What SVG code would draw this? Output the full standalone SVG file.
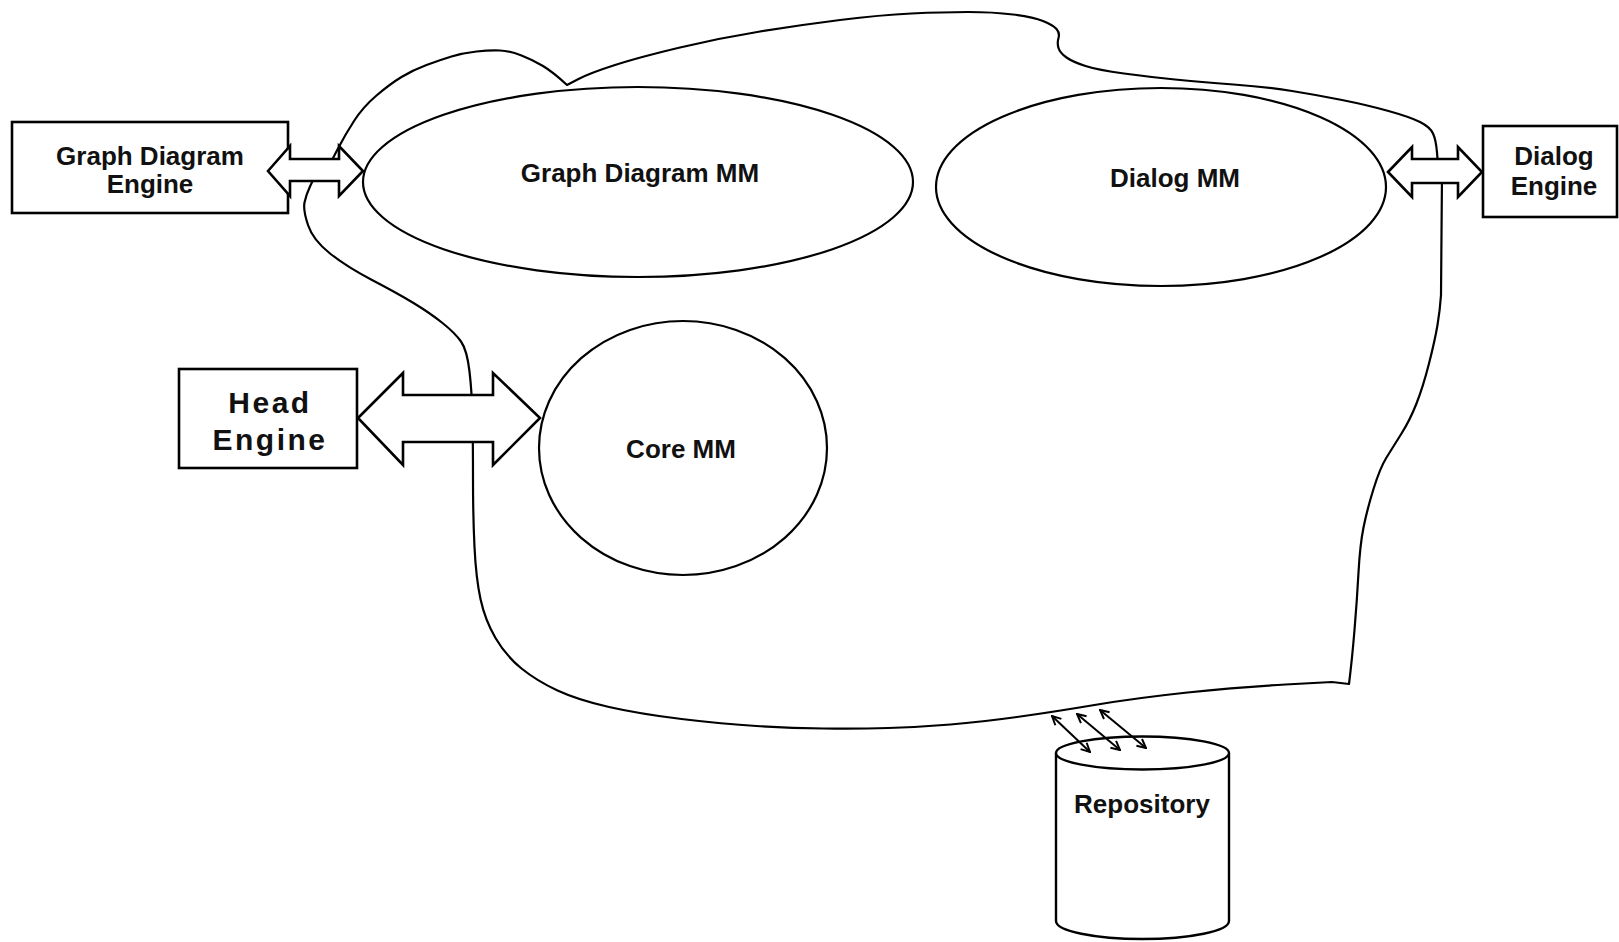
<svg xmlns="http://www.w3.org/2000/svg" width="1619" height="942" viewBox="0 0 1619 942">
<style>
.ln{fill:none;stroke:#000;stroke-width:2.2;stroke-linejoin:round;stroke-linecap:round}
.sh{fill:#fff;stroke:#000;stroke-width:2.4}
.bx{fill:#fff;stroke:#000;stroke-width:2.6}
.ar{fill:#fff;stroke:#000;stroke-width:2.6;stroke-linejoin:miter}
.t{font-family:"Liberation Sans",Arial,sans-serif;font-weight:bold;font-size:26px;fill:#111;text-anchor:middle}
.tb{font-family:"Liberation Sans",Arial,sans-serif;font-weight:bold;font-size:30px;letter-spacing:2.5px;fill:#111;text-anchor:middle}
.sm{fill:none;stroke:#000;stroke-width:2}
</style>
<defs>
<marker id="v" viewBox="0 0 10 10" refX="9" refY="5" markerWidth="11" markerHeight="11" markerUnits="userSpaceOnUse" orient="auto-start-reverse">
<path d="M1,1 L9,5 L1,9" fill="none" stroke="#000" stroke-width="1.8"/>
</marker>
</defs>
<rect width="1619" height="942" fill="#fff"/>
<g id="boundary">
<path class="ln" d="M331 162 L338 148.5 Q345 135 354 121 Q363 107 376.5 95.5 Q390 84 401.5 77 Q413 70 426.5 65 Q440 60 451.5 56.5 Q463 53 476.5 51.5 Q490 50 500 50.5 Q510 51 521.5 55.5 Q533 60 543 66 Q553 72 567 85 L578.5 79 Q590 73 615 65 Q640 57 680 47.5 Q720 38 760 31.5 Q800 25 840 20 Q880 15 911.5 13.5 Q943 12 968 12 Q993 12 1013 14.5 Q1033 17 1043 21 Q1053 25 1056.5 29 Q1060 33 1058.5 38 Q1057 43 1058.5 48 Q1060 53 1066.5 57.5 Q1073 62 1085.5 66 Q1098 70 1124 73.5 Q1150 77 1175 79.5 Q1200 82 1233.5 84.5 Q1267 87 1292 91 Q1317 95 1342 100 Q1367 105 1388.5 111 Q1410 117 1420 122 Q1430 127 1433 133.5 Q1436 140 1437 152.5 L1438 165"/>
<path class="ln" d="M1442 175 L1441 295 Q1440 310 1437.5 325 Q1435 340 1429 363.5 Q1423 387 1416.5 403.5 Q1410 420 1401.5 433.5 Q1393 447 1386.5 457.5 Q1380 468 1373.5 489 Q1367 510 1363.5 527.5 Q1360 545 1358.5 572.5 Q1357 600 1354.5 630 Q1352 660 1349 684 L1332 682 L1285.5 684.5 Q1239 687 1187.5 692.5 Q1136 698 1094.5 705 Q1053 712 1017 717 Q981 722 950.5 724.5 Q920 727 888.5 728 Q857 729 823.5 728.5 Q790 728 756.5 726 Q723 724 681.5 719 Q640 714 609 707 Q578 700 557.5 690.5 Q537 681 521.5 668.5 Q506 656 495.5 638 Q485 620 480.5 599 Q476 578 474.5 547 Q473 516 473 480 Q473 444 472.5 418.5 Q472 393 469.5 371.5 Q467 350 461 341.5 Q455 333 442.5 323 Q430 313 413.5 303 Q397 293 372 280 Q347 267 330 253.5 Q313 240 308 225 Q303 210 304.5 202.5 Q306 195 310 186.5 L314 178"/>
</g>
<g id="graph-diagram-mm">
<ellipse class="ln" cx="638" cy="182" rx="275" ry="95"/>
<text class="t" x="640" y="182">Graph Diagram MM</text>
</g>
<g id="dialog-mm">
<ellipse class="ln" cx="1161" cy="187" rx="225" ry="99"/>
<text class="t" x="1175" y="187">Dialog MM</text>
</g>
<g id="core-mm">
<ellipse class="ln" cx="683" cy="448" rx="144" ry="127"/>
<text class="t" x="681" y="458">Core MM</text>
</g>
<g id="graph-diagram-engine">
<rect class="bx" x="12" y="122" width="276" height="91"/>
<text class="t" x="150" y="165">Graph Diagram</text>
<text class="t" x="150" y="193">Engine</text>
</g>
<g id="dialog-engine">
<rect class="bx" x="1483" y="126" width="134" height="91"/>
<text class="t" x="1554" y="165">Dialog</text>
<text class="t" x="1554" y="195">Engine</text>
</g>
<g id="head-engine">
<rect class="bx" x="179" y="369" width="178" height="99"/>
<text class="tb" x="270" y="413">Head</text>
<text class="tb" x="270" y="450">Engine</text>
</g>
<g id="repository">
<path class="sh" d="M1056 753 L1056 921 A86.5 18 0 0 0 1229 921 L1229 753"/>
<ellipse class="sh" cx="1142.5" cy="753" rx="86.5" ry="16.5"/>
<text class="t" x="1142" y="813">Repository</text>
</g>
<g id="connectors">
<polygon class="ar" points="268,171 290,146 290,159 339,159 339,146 363,171 339,196 339,181 290,181 290,196"/>
<polygon class="ar" points="1388,172 1412,147 1412,159 1458,159 1458,147 1482,172 1458,197 1458,183 1412,183 1412,197"/>
<polygon class="ar" points="358,418 403,373 403,395 493,395 493,373 540,418 493,465 493,442 403,442 403,465"/>
<line class="sm" x1="1052" y1="716" x2="1090" y2="752" marker-start="url(#v)" marker-end="url(#v)"/>
<line class="sm" x1="1077" y1="714" x2="1120" y2="750" marker-start="url(#v)" marker-end="url(#v)"/>
<line class="sm" x1="1100" y1="710" x2="1146" y2="748" marker-start="url(#v)" marker-end="url(#v)"/>
</g>
</svg>
